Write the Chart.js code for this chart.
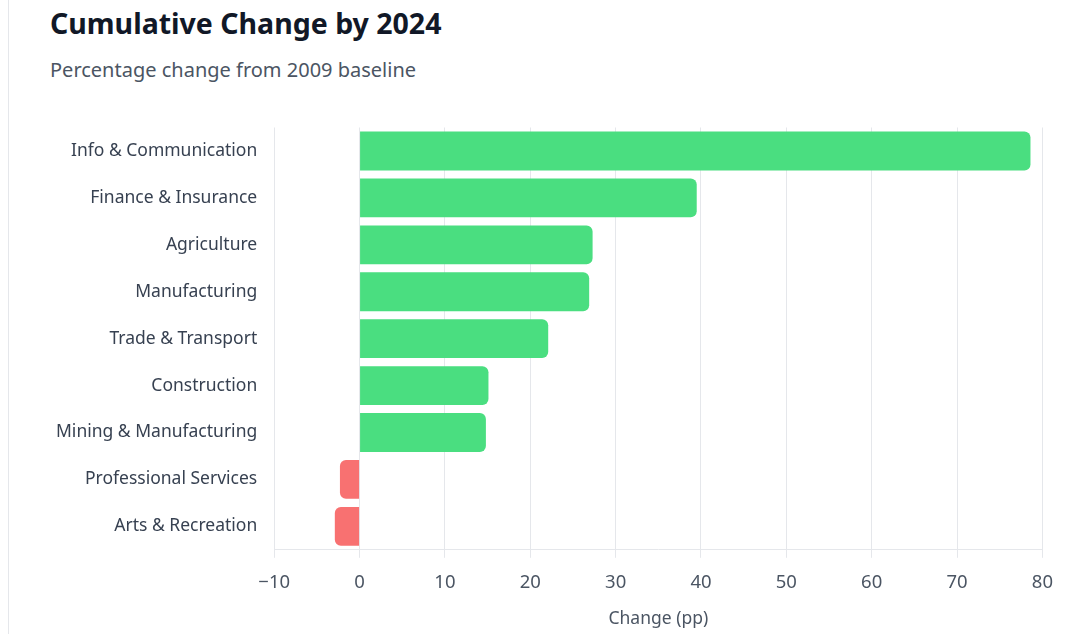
<!DOCTYPE html>
<html>
<head>
<meta charset="utf-8">
<script src="https://cdn.jsdelivr.net/npm/chart.js@4/dist/chart.umd.min.js"></script>
<style>
  html, body { margin: 0; padding: 0; background: #fff; }
  body { width: 1091px; height: 634px; overflow: hidden; font-family: "Noto Sans", sans-serif; }
  .card { position: absolute; left: 8px; top: 0; width: 1083px; height: 634px; border-left: 1px solid #e5e7eb; }
  h1 { position: absolute; left: 41px; top: 4px; margin: 0; font-size: 28.5px; font-weight: 700; color: #111827; }
  .sub { position: absolute; left: 41px; top: 56px; margin: 0; font-size: 20px; color: #4b5563; }
  .chart-box { position: absolute; left: 38px; top: 108px; width: 1020px; height: 526px; }
</style>
</head>
<body>
<div class="card">
  <h1>Cumulative Change by 2024</h1>
  <p class="sub">Percentage change from 2009 baseline</p>
  <div class="chart-box"><canvas id="changeChart"></canvas></div>
</div>
<script>
const sectors = [
  'Info & Communication',
  'Finance & Insurance',
  'Agriculture',
  'Manufacturing',
  'Trade & Transport',
  'Construction',
  'Mining & Manufacturing',
  'Professional Services',
  'Arts & Recreation'
];
const changePP = [78.6, 39.5, 27.3, 26.9, 22.1, 15.1, 14.8, -2.3, -2.9];
const xTicks = [-10, 0, 10, 20, 30, 40, 50, 60, 70, 80];

const green = '#4ade80';
const red = '#f87171';

const ctx = document.getElementById('changeChart').getContext('2d');
new Chart(ctx, {
  type: 'bar',
  data: {
    labels: sectors,
    datasets: [{
      data: changePP,
      backgroundColor: changePP.map(v => v >= 0 ? green : red),
      borderRadius: 6,
      borderSkipped: 'start',
      barPercentage: 0.92,
      categoryPercentage: 0.9
    }]
  },
  options: {
    indexAxis: 'y',
    responsive: true,
    maintainAspectRatio: false,
    animation: false,
    layout: { padding: { top: 14, right: 7, bottom: 0, left: 0 } },
    plugins: { legend: { display: false }, tooltip: { enabled: false } },
    scales: {
      x: {
        min: xTicks[0],
        max: xTicks[xTicks.length - 1],
        afterBuildTicks: axis => { axis.ticks = xTicks.map(v => ({ value: v })); },
        ticks: {
          color: '#4b5563',
          font: { family: 'Noto Sans', size: 18.5 },
          padding: 14,
          callback: v => v < 0 ? '\u2212' + Math.abs(v) : String(v)
        },
        grid: { color: '#e5e7eb', tickLength: 8 },
        border: { color: '#e5e7eb' },
        title: {
          display: true,
          text: 'Change (pp)',
          color: '#4b5563',
          font: { family: 'Noto Sans', size: 17.5 },
          padding: { top: 1 }
        }
      },
      y: {
        ticks: {
          color: '#374151',
          font: { family: 'Noto Sans', size: 17.5 },
          padding: 9
        },
        grid: { display: false },
        border: { display: false }
      }
    }
  }
});
</script>
</body>
</html>
